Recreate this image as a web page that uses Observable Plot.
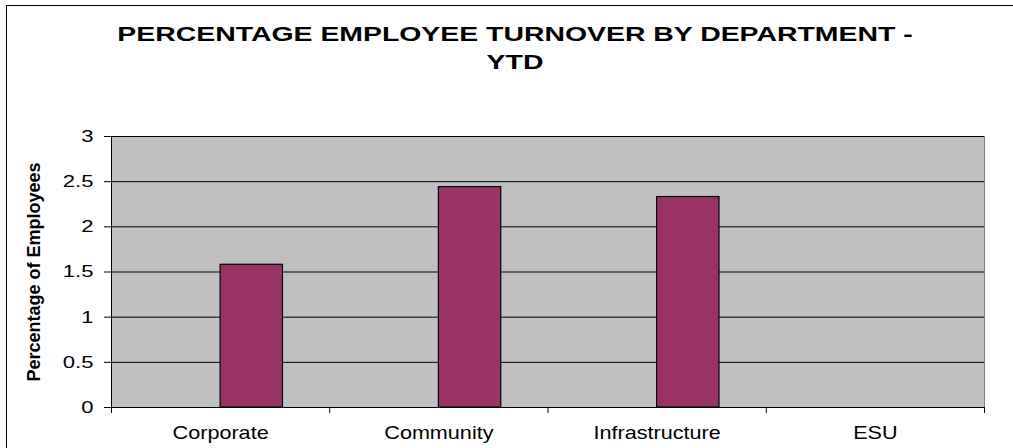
<!DOCTYPE html>
<html><head><meta charset="utf-8">
<script src="https://cdn.jsdelivr.net/npm/d3@7"></script>
<script src="https://cdn.jsdelivr.net/npm/@observablehq/plot@0.6"></script>
<style>
html,body{margin:0;padding:0;background:#fff;}
#wrap{position:relative;width:1013px;height:448px;overflow:hidden;font-family:"Liberation Sans",Arial,sans-serif;}
#border{position:absolute;left:6px;top:5px;width:1100px;height:600px;border:1.5px solid #000;box-sizing:border-box;}
#title{position:absolute;left:0;top:20.8px;width:1030px;text-align:center;font-weight:bold;font-size:20px;line-height:27.7px;color:#000;transform:scaleX(1.42);transform-origin:515px 0;}
#chart{position:absolute;left:0;top:0;}
</style></head>
<body><div id="wrap"><div id="border"></div><div id="title">PERCENTAGE EMPLOYEE TURNOVER BY DEPARTMENT -<br>YTD</div><div id="chart"></div></div>
<script>
const categories = ["Corporate", "Community", "Infrastructure", "ESU"];
const turnover = [1.58, 2.44, 2.33, null];
const yTicks = [0, 0.5, 1, 1.5, 2, 2.5, 3];
const yLabel = "Percentage of Employees";

const gapWidth = 1.5;               // Excel gap width 150%, two series slots (first empty)
const barFrac = 1 / (2 + gapWidth);
const n = categories.length;
const data = categories.map((c, i) => ({category: c, i, value: turnover[i]})).filter(d => d.value != null);

const plot = Plot.plot({
  width: 1013, height: 448,
  marginLeft: 111, marginRight: 29, marginTop: 136, marginBottom: 41,
  style: {fontFamily: '"Liberation Sans", Arial, sans-serif', fontSize: "17px", color: "#000", background: "transparent", overflow: "visible"},
  x: {type: "linear", domain: [0, n]},
  y: {domain: [0, 3]},
  marks: [
    Plot.frame({fill: "#c0c0c0", stroke: "#808080"}),
    Plot.gridY(yTicks, {stroke: "#000", strokeOpacity: 1, strokeWidth: 1}),
    Plot.rect(data, {x1: d => d.i + 0.5, x2: d => d.i + 0.5 + barFrac, y1: 0, y2: "value", fill: "#993366", stroke: "#000", strokeWidth: 1.2}),
    Plot.ruleY([0], {stroke: "#000"}),
    Plot.ruleX([0], {stroke: "#000"}),
    Plot.axisY(yTicks, {tickSize: 7, tickPadding: 11, tickFormat: d => String(d), fontSize: 17, label: null, stroke: "#000"}),
    Plot.axisX(d3.range(n + 1), {tickSize: 6, tickFormat: () => "", label: null, stroke: "#000"}),
    Plot.axisX(categories.map((_, i) => i + 0.5), {tickSize: 0, tickPadding: 18.5, tickFormat: v => categories[Math.floor(v)], fontSize: 18, label: null}),
    Plot.text([yLabel], {frameAnchor: "left", textAnchor: "middle", rotate: -90, dx: -77, fontSize: 18, fontWeight: "bold", fill: "#000"})
  ]
});

function stretch(sel, s) {
  d3.select(plot).selectAll(sel).each(function () {
    const t = this.getAttribute("transform");
    if (t) this.setAttribute("transform", t + ` scale(${s},1)`);
  });
}
stretch('g[aria-label="y-axis tick label"] text', 1.3);
stretch('g[aria-label="x-axis tick label"] text', 1.2);

document.getElementById("chart").appendChild(plot);
</script>
</body></html>
